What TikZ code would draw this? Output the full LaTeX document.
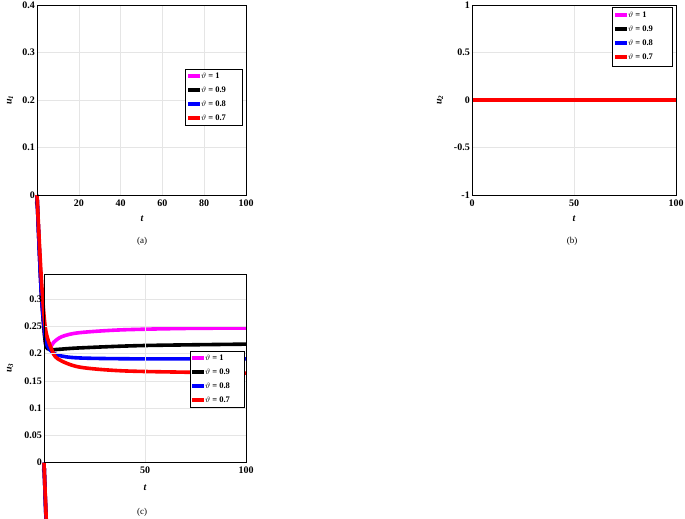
\documentclass[tikz,border=0pt]{standalone}
\usepackage{fontspec}
\setmainfont{Liberation Serif}
\begin{document}
\begin{tikzpicture}[x=1pt,y=-1pt,
  grid/.style={gray!20,line width=0.5pt},
  frame/.style={black,line width=0.6pt},
  tl/.style={font=\bfseries\fontsize{10}{10}\selectfont},
  cv/.style={line width=3.6pt,line join=round},
  legbox/.style={draw,fill=white,line width=0.5pt},
  lt/.style={font=\bfseries\fontsize{8.5}{9}\selectfont,anchor=west,inner sep=1pt},
  captxt/.style={font=\fontsize{9}{10}\selectfont}]
\useasboundingbox (0,0) rectangle (685,519);
\definecolor{mg}{RGB}{255,0,255}
% ===== (a)
\foreach \i in {0,...,5}{\draw[grid] ({37+\i*41.8},5) -- ({37+\i*41.8},195);
  \pgfmathtruncatemacro\v{\i*20}\node[tl,below] at ({37+\i*41.8},196) {\v};}
\foreach \i/\l in {0/0,1/0.1,2/0.2,3/0.3,4/0.4}{\draw[grid] (37,{195-\i*47.5}) -- (246,{195-\i*47.5});
  \node[tl,left,inner sep=1pt] at (36,{195-\i*47.5}) {\l};}
\begin{scope}[shift={(37,195)},x=2.09pt,y=-475pt]
\draw[cv,mg] plot[smooth,tension=0.5] coordinates{(0,0)(2,0.2)(4,0.31)(6,0.322)(8,0.31)(12,0.298)(20,0.29)(40,0.284)(70,0.281)(100,0.28)};
\draw[cv,black] plot[smooth,tension=0.5] coordinates{(0,0)(2,0.2)(4,0.31)(6,0.325)(10,0.325)(20,0.322)(50,0.317)(100,0.314)};
\draw[cv,blue] plot[smooth,tension=0.5] coordinates{(0,0)(2,0.2)(4,0.3)(6,0.325)(10,0.337)(20,0.343)(50,0.345)(100,0.345)};
\draw[cv,red] plot[smooth,tension=0.5] coordinates{(0,0)(2,0.17)(4,0.28)(7,0.325)(10,0.345)(20,0.362)(40,0.37)(70,0.373)(100,0.375)};
\end{scope}
\draw[frame] (37,5) rectangle (246,195);
\node[tl,rotate=90] (ya) at (10,100) {\textit{u\textsubscript{1}}};
\node[tl] (xa) at (142,219) {\itshape t};
\node[captxt] (ca) at (142,241) {(a)};
\draw[legbox] (185,69) rectangle (242,125);
\foreach \c/\t [count=\k from 0] in {mg/1,black/0.9,blue/0.8,red/0.7}{
  \draw[\c,line width=3.6pt] (188,{76+\k*14}) -- (200,{76+\k*14});
  \node[lt] at (200,{76+\k*14}) {$\vartheta$ = \t};}
% ===== (b)
\foreach \i/\l in {0/0,1/50,2/100}{\draw[grid] ({472+\i*102},5) -- ({472+\i*102},195);
  \node[tl,below] at ({472+\i*102},196) {\l};}
\foreach \i/\l in {0/-1,1/-0.5,2/0,3/0.5,4/1}{\draw[grid] (472,{195-\i*47.5}) -- (676,{195-\i*47.5});
  \node[tl,left,inner sep=1pt] at (471,{195-\i*47.5}) {\l};}
\draw[line width=3.6pt,red] (472,100) -- (676,100);
\draw[frame] (472,5) rectangle (676,195);
\node[tl,rotate=90] (yb) at (440,100) {\textit{u\textsubscript{2}}};
\node[tl] (xb) at (574,219) {\itshape t};
\node[captxt] (cb) at (572,241) {(b)};
\draw[legbox] (612,7) rectangle (672,66);
\foreach \c/\t [count=\k from 0] in {mg/1,black/0.9,blue/0.8,red/0.7}{
  \draw[\c,line width=3.6pt] (615,{15+\k*14}) -- (627,{15+\k*14});
  \node[lt] at (627,{15+\k*14}) {$\vartheta$ = \t};}
% ===== (c)
\foreach \i/\l in {0/0,1/50,2/100}{\draw[grid] ({44+\i*101},274) -- ({44+\i*101},462.7);
  \node[tl,below] at ({44+\i*101},463) {\l};}
\foreach \i/\l in {0/0,1/0.05,2/0.1,3/0.15,4/0.2,5/0.25,6/0.3}{\draw[grid] (44,{462.7-\i*27.25}) -- (246,{462.7-\i*27.25});
  \node[tl,left,inner sep=1pt] at (43,{462.7-\i*27.25}) {\l};}
\begin{scope}[shift={(44,462.7)},x=2.02pt,y=-545pt]
\draw[cv,mg] plot[smooth,tension=0.5] coordinates{(0,0)(2,0.2)(3.5,0.31)(5,0.315)(7,0.29)(10,0.26)(20,0.238)(40,0.226)(70,0.219)(100,0.216)};
\draw[cv,black] plot[smooth,tension=0.5] coordinates{(0,0)(2,0.2)(3.5,0.31)(5,0.315)(8,0.3)(15,0.283)(30,0.268)(60,0.258)(100,0.253)};
\draw[cv,blue] plot[smooth,tension=0.5] coordinates{(0,0)(2,0.2)(4,0.31)(6,0.318)(10,0.314)(30,0.302)(60,0.293)(100,0.288)};
\draw[cv,red] plot[smooth,tension=0.5] coordinates{(0,0)(2,0.18)(4,0.29)(7,0.32)(12,0.327)(30,0.328)(60,0.325)(100,0.321)};
\end{scope}
\draw[frame] (44,274) rectangle (246,462.7);
\node[tl,rotate=90] (yc) at (10,368) {\textit{u\textsubscript{3}}};
\node[tl] (xc) at (145,488) {\itshape t};
\node[captxt] (cc) at (142,512) {(c)};
\draw[legbox] (190,351) rectangle (244,407);
\foreach \c/\t [count=\k from 0] in {mg/1,black/0.9,blue/0.8,red/0.7}{
  \draw[\c,line width=3.6pt] (192,{358+\k*14}) -- (204,{358+\k*14});
  \node[lt] at (204,{358+\k*14}) {$\vartheta$ = \t};}
\end{tikzpicture}
\end{document}
